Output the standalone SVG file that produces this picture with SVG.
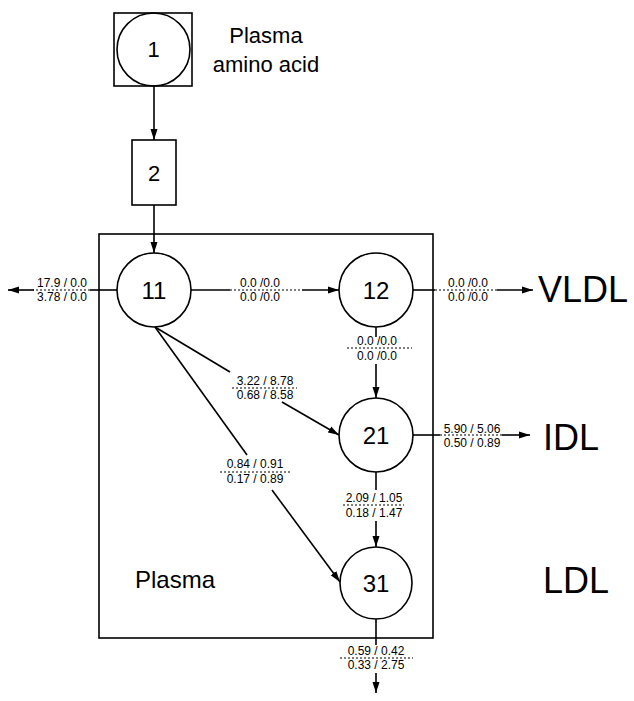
<svg xmlns="http://www.w3.org/2000/svg" width="634" height="701" viewBox="0 0 634 701">
<style>
  .shape { fill: none; stroke: #000; stroke-width: 1.6; }
  .ln { fill: none; stroke: #000; stroke-width: 1.6; }
  .dot { fill: none; stroke: #000; stroke-width: 1.2; stroke-dasharray: 2 2; }
  .node { font-family: "Liberation Sans", Arial, sans-serif; font-size: 24px; text-anchor: middle; fill: #000; }
  .lbl { font-family: "Liberation Sans", Arial, sans-serif; font-size: 12px; text-anchor: middle; fill: #000; }
  .big { font-family: "Liberation Sans", Arial, sans-serif; font-size: 36px; fill: #000; }
  .mid { font-family: "Liberation Sans", Arial, sans-serif; font-size: 22px; fill: #000; }
</style>
<defs>
  <marker id="arr" markerUnits="userSpaceOnUse" markerWidth="12" markerHeight="8" refX="11" refY="4" orient="auto">
    <path d="M0,0.5 L11,4 L0,7.5 Z" fill="#000"/>
  </marker>
</defs>
<rect width="634" height="701" fill="#fff"/>

<g id="plasma-compartment">
  <rect x="99" y="234" width="334" height="404" class="shape"/>
  <text x="135" y="588" class="mid" style="font-size:24px">Plasma</text>
</g>

<g id="node-1">
  <rect x="114" y="13" width="78" height="73" class="shape"/>
  <circle cx="153.5" cy="49.5" r="36.5" class="shape"/>
  <text x="153.5" y="57" class="node" style="font-size:22px">1</text>
</g>
<g id="label-plasma-amino-acid">
  <text x="266" y="43" class="mid" text-anchor="middle">Plasma</text>
  <text x="266" y="72" class="mid" text-anchor="middle">amino acid</text>
</g>

<g id="node-2">
  <rect x="132" y="140" width="44" height="65" class="shape"/>
  <text x="154" y="181" class="node" style="font-size:22px">2</text>
</g>

<g id="node-11">
  <circle cx="154" cy="290" r="37" class="shape"/>
  <text x="154" y="299" class="node">11</text>
</g>
<g id="node-12">
  <circle cx="376" cy="290" r="37" class="shape"/>
  <text x="376" y="299" class="node">12</text>
</g>
<g id="node-21">
  <circle cx="376" cy="435" r="37" class="shape"/>
  <text x="376" y="444" class="node">21</text>
</g>
<g id="node-31">
  <circle cx="376" cy="583" r="36" class="shape"/>
  <text x="376" y="592" class="node">31</text>
</g>

<g id="outputs">
  <text x="538" y="302" class="big">VLDL</text>
  <text x="543" y="450" class="big">IDL</text>
  <text x="543" y="593" class="big">LDL</text>
</g>

<g id="connectors">
  <!-- 1 -> 2 -->
  <line x1="154" y1="86" x2="154" y2="140" class="ln" marker-end="url(#arr)"/>
  <!-- 2 -> 11 -->
  <line x1="154" y1="205" x2="154" y2="253" class="ln" marker-end="url(#arr)"/>

  <!-- 11 -> left -->
  <line x1="117" y1="290" x2="90" y2="290" class="ln"/>
  <line x1="90" y1="290" x2="33" y2="290" class="dot"/>
  <line x1="34" y1="290" x2="8" y2="290" class="ln" marker-end="url(#arr)"/>
  <text x="62" y="287" class="lbl">17.9 / 0.0</text>
  <text x="62" y="301" class="lbl">3.78 / 0.0</text>

  <!-- 11 -> 12 -->
  <line x1="191" y1="290" x2="230" y2="290" class="ln"/>
  <line x1="230" y1="290" x2="302" y2="290" class="dot"/>
  <line x1="302" y1="290" x2="339" y2="290" class="ln" marker-end="url(#arr)"/>
  <text x="260" y="287" class="lbl">0.0 /0.0</text>
  <text x="260" y="301" class="lbl">0.0 /0.0</text>

  <!-- 12 -> VLDL -->
  <line x1="413" y1="290" x2="435" y2="290" class="ln"/>
  <line x1="435" y1="290" x2="497" y2="290" class="dot"/>
  <line x1="497" y1="290" x2="533" y2="290" class="ln" marker-end="url(#arr)"/>
  <text x="468" y="287" class="lbl">0.0 /0.0</text>
  <text x="468" y="301" class="lbl">0.0 /0.0</text>

  <!-- 12 -> 21 -->
  <line x1="376" y1="327" x2="376" y2="337" class="ln"/>
  <line x1="347" y1="348" x2="412" y2="348" class="dot"/>
  <text x="377" y="345" class="lbl">0.0 /0.0</text>
  <text x="377" y="360" class="lbl">0.0 /0.0</text>
  <line x1="376" y1="364" x2="376" y2="398" class="ln" marker-end="url(#arr)"/>

  <!-- 11 -> 21 -->
  <line x1="155" y1="327" x2="230" y2="372" class="ln"/>
  <line x1="232" y1="388" x2="297" y2="388" class="dot"/>
  <text x="265" y="385" class="lbl">3.22 / 8.78</text>
  <text x="265" y="399" class="lbl">0.68 / 8.58</text>
  <line x1="282" y1="402" x2="339" y2="435" class="ln" marker-end="url(#arr)"/>

  <!-- 11 -> 31 -->
  <line x1="155" y1="327" x2="247" y2="455" class="ln"/>
  <line x1="220" y1="472" x2="290" y2="472" class="dot"/>
  <text x="255" y="468" class="lbl">0.84 / 0.91</text>
  <text x="255" y="483" class="lbl">0.17 / 0.89</text>
  <line x1="272" y1="490" x2="340" y2="582" class="ln" marker-end="url(#arr)"/>

  <!-- 21 -> IDL -->
  <line x1="413" y1="435" x2="440" y2="435" class="ln"/>
  <line x1="440" y1="435" x2="502" y2="435" class="dot"/>
  <line x1="502" y1="435" x2="530" y2="435" class="ln" marker-end="url(#arr)"/>
  <text x="472" y="433" class="lbl">5.90 / 5.06</text>
  <text x="472" y="447" class="lbl">0.50 / 0.89</text>

  <!-- 21 -> 31 -->
  <line x1="376" y1="472" x2="376" y2="490" class="ln"/>
  <line x1="343" y1="505" x2="404" y2="505" class="dot"/>
  <text x="374" y="502" class="lbl">2.09 / 1.05</text>
  <text x="374" y="517" class="lbl">0.18 / 1.47</text>
  <line x1="376" y1="521" x2="376" y2="547" class="ln" marker-end="url(#arr)"/>

  <!-- 31 -> down -->
  <line x1="376" y1="619" x2="376" y2="645" class="ln"/>
  <line x1="340" y1="658" x2="413" y2="658" class="dot"/>
  <text x="376" y="655" class="lbl">0.59 / 0.42</text>
  <text x="376" y="669" class="lbl">0.33 / 2.75</text>
  <line x1="376" y1="673" x2="376" y2="693" class="ln" marker-end="url(#arr)"/>
</g>
</svg>
